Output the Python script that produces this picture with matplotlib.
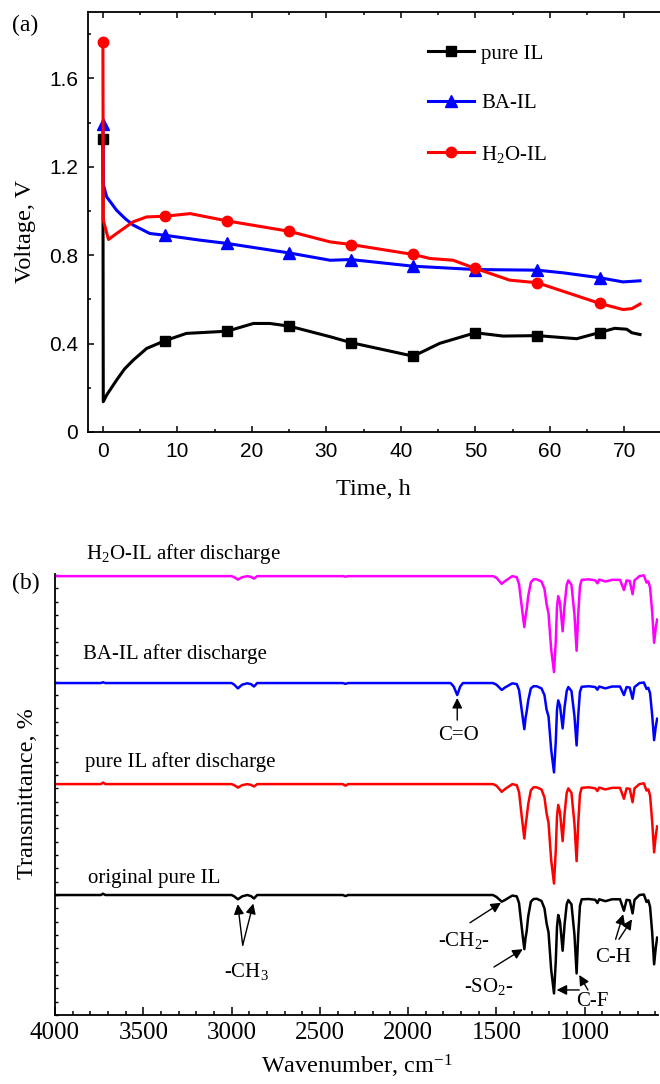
import matplotlib
matplotlib.use('Agg')
import matplotlib.pyplot as plt
from matplotlib.ticker import MultipleLocator
import numpy as np

plt.rcParams['font.family'] = ['Liberation Serif', 'DejaVu Serif']
plt.rcParams['mathtext.fontset'] = 'custom'
plt.rcParams['mathtext.rm'] = 'Liberation Serif'
plt.rcParams['mathtext.it'] = 'Liberation Serif:italic'
plt.rcParams['mathtext.bf'] = 'Liberation Serif:bold'

fs = 15
W, H = 660, 1084

# ---------------- (a) discharge voltage ----------------
mark_t = [0, 8.33, 16.67, 25, 33.33, 41.67, 50, 58.33, 66.67]

t_pure = [0, 0.05, 0.5, 1.84, 2.9, 4.07, 5.87, 8.33, 11.2, 16.67, 20.2, 22.4, 25, 30.5,
          33.33, 41.67, 45.2, 50, 53.7, 58.33, 63.6, 66.67, 68.7, 70.3, 71, 72.1]
v_pure = [1.327, 0.137, 0.167, 0.235, 0.285, 0.325, 0.378, 0.413, 0.446, 0.456, 0.491, 0.491,
          0.479, 0.431, 0.404, 0.343, 0.401, 0.449, 0.434, 0.436, 0.422, 0.450, 0.469, 0.465,
          0.449, 0.441]

t_ba = [0, 0.05, 0.5, 1.84, 3.0, 4.07, 6.3, 8.33, 13.0, 16.67, 25, 30.5, 33.33, 41.67, 50,
        58.33, 61.8, 66.67, 69.8, 72.1]
v_ba = [1.395, 1.12, 1.064, 1.003, 0.965, 0.936, 0.898, 0.890, 0.868, 0.853, 0.810, 0.777,
        0.780, 0.750, 0.735, 0.732, 0.720, 0.698, 0.679, 0.684]

t_h2o = [0, 0.05, 0.75, 1.84, 4.07, 5.87, 8.33, 11.7, 16.67, 25, 30.5, 33.33, 41.67, 43.9,
         47.0, 50, 54.6, 58.33, 66.67, 69.8, 71.0, 72.1]
v_h2o = [1.764, 0.958, 0.871, 0.898, 0.951, 0.973, 0.976, 0.988, 0.955, 0.908, 0.860, 0.848,
         0.803, 0.785, 0.777, 0.740, 0.687, 0.675, 0.582, 0.554, 0.558, 0.579]

v_ticks = [0, 0.4, 0.8, 1.2, 1.6]
v_ticklabels = ['0', '0.4', '0.8', '1.2', '1.6']

# ---------------- (b) FTIR spectra ----------------
wn = [4000, 3740, 3728, 3715, 3000, 2985, 2964, 2940, 2911, 2890, 2873, 2855, 2370, 2355, 2340,
      1760, 1742, 1722, 1705, 1690,
      1520, 1500, 1470, 1450, 1410, 1385, 1372, 1362, 1350, 1342,
      1335, 1329, 1320, 1305, 1290, 1272, 1245, 1228, 1216, 1205,
      1190, 1174, 1164, 1157, 1150, 1140, 1125, 1114, 1102, 1093,
      1075, 1058, 1046, 1037, 1027, 1017, 977, 940, 928, 918,
      883, 845, 800, 778, 763, 745, 729, 718, 690, 665,
      650, 640, 630, 618, 607, 598, 590]

# drop below each baseline, in transmittance units
drop_orig = [0, 0, -0.5, 0, 0, 0.5, 1.6, 0.5, 0, 0.4, 1.3, 0, 0, 0.4, 0,
             0, 0, 0, 0, 0,
             0, 0.7, 2.5, 1.8, 0.2, 0.5, 3, 9, 16, 20.3,
             16, 13.7, 8, 2.5, 1.5, 1.4, 2.2, 5, 10.6, 14,
             28, 36.9, 25, 12, 7.5, 10, 20.9, 11, 3.5, 1.9,
             3.5, 15, 29.4, 15, 4, 1.6, 1.5, 1.8, 3, 1.6,
             2.3, 1.6, 1.6, 5.9, 1.8, 2, 6.9, 1.8, 0, -0.2,
             2.6, 2, 4.4, 14, 26, 20, 16]
drop_pure = [0, 0, -0.6, 0, 0, 0.4, 1.3, 0.4, 0, 0.3, 0.9, 0, 0, 0.6, 0,
             0, 0, 0, 0, 0,
             0, 0.6, 2.9, 1.8, 0, 0.4, 3, 9, 16, 20.4,
             15.5, 12.6, 7.5, 2.3, 1.2, 1.2, 2, 5, 11, 14.5,
             28.5, 37.3, 25, 12, 7.8, 10.5, 21.4, 11, 3.3, 1.6,
             3.3, 15, 28.9, 15, 3.8, 1.4, 1.2, 1.6, 2.6, 1.3,
             2, 1.4, 1.4, 5.5, 1.6, 1.8, 6.8, 1.6, 0, -0.3,
             2.4, 2, 4.2, 14, 25.6, 19.5, 15.9]
drop_ba = [0, 0, -0.3, 0, 0, 0.6, 2, 0.6, 0.1, 0.4, 1.3, 0, 0, 0.3, 0,
           0, 1.3, 4.5, 1.3, 0,
           0, 0.6, 2.6, 1.6, 0.1, 0.4, 2.6, 7.5, 13.5, 17.3,
           13, 10.8, 6.5, 2, 1.2, 1.2, 2, 4.5, 10, 12.5,
           25, 33.5, 22, 10, 6.5, 8.5, 17, 9, 3, 1.5,
           3, 12.5, 23.4, 12.5, 3.3, 1.4, 1.2, 1.5, 2.5, 1.3,
           2, 1.3, 1.3, 4.5, 1.5, 1.7, 5.9, 1.5, 0, -0.2,
           2.2, 1.8, 3.8, 12, 21.4, 16.5, 13.4]
drop_h2o = [0, 0, 0, 0, 0, 0.4, 1.3, 0.4, 0, 0.3, 0.9, 0, 0, 0.2, 0,
            0, 0, 0, 0, 0,
            0, 0.6, 2.9, 1.8, 0, 0.4, 3, 8.5, 15, 19.1,
            15, 12.6, 7.5, 2.3, 1.2, 1.2, 2, 4.8, 10.5, 14,
            27.5, 36, 24.5, 11.5, 7.5, 10, 20.7, 10.8, 3.3, 1.6,
            3.3, 14.5, 28, 14.5, 3.8, 1.4, 1.2, 1.6, 2.7, 1.3,
            2, 1.4, 1.4, 5.2, 1.6, 1.8, 6.8, 1.6, 0, -0.3,
            2.4, 2, 4.2, 13.5, 25, 19.5, 16.3]

baselines = {'orig': 45.0, 'pure': 86.6, 'ba': 124.5, 'h2o': 164.6}

############################################################################################

fig = plt.figure(figsize=(W / 100, H / 100), dpi=100)

ax1 = fig.add_axes([88 / W, 1 - 432 / H, 596 / W, 420 / H])
ax2 = fig.add_axes([55 / W, 1 - 1015 / H, 603 / W, 441 / H])

def marks(t):
    return [i for i, x in enumerate(t) if x in mark_t]

l1, = ax1.plot(t_pure, v_pure, color='k', lw=2.2, marker='s', ms=6.5,
               markevery=marks(t_pure), label='pure IL')
l2, = ax1.plot(t_ba, v_ba, color='#0000ff', lw=2.2, marker='^', ms=8,
               markevery=marks(t_ba), label='BA-IL')
l3, = ax1.plot(t_h2o, v_h2o, color='#ff0000', lw=2.2, marker='o', ms=7.5,
               markevery=marks(t_h2o), label='H$_2$O-IL')

ax1.set_xlim(-2, 78)
ax1.set_ylim(0, 1.9)
ax1.set_xticks(np.arange(0, 71, 10))
ax1.xaxis.set_minor_locator(MultipleLocator(5))
ax1.set_yticks(v_ticks, v_ticklabels)
ax1.yaxis.set_minor_locator(MultipleLocator(0.2))
ax1.tick_params(which='both', direction='in', top=True, right=False, width=1.1)
ax1.tick_params(which='major', length=4.5, pad=7, labelsize=15)
ax1.tick_params(which='minor', length=2.5)
for lbl in ax1.get_xticklabels() + ax1.get_yticklabels():
    lbl.set_fontfamily('Liberation Sans')
for s in ax1.spines.values():
    s.set_linewidth(1.3)
ax1.spines['right'].set_visible(False)

ax1.set_xlabel('Time, h', fontsize=17.5, va='center')
ax1.xaxis.set_label_coords((373 - 88) / 596, (432 - 490) / 420)
ax1.set_ylabel('Voltage, V', fontsize=17.5, va='center')
ax1.yaxis.set_label_coords((25 - 88) / 596, (432 - 231) / 420)

ax1.legend(loc='upper left', bbox_to_anchor=(428 / W, 1 - 44 / H), bbox_transform=fig.transFigure,
           frameon=False, fontsize=fs, labelspacing=1.45, handlelength=2.2,
           handletextpad=0.35, borderpad=0, borderaxespad=0)

fig.text(12 / W, 1 - 25 / H, '(a)', fontsize=17, va='center', ha='left')

# ---------------- (b) ----------------
wn_arr = np.array(wn)
ax2.plot(wn_arr, baselines['h2o'] - np.array(drop_h2o), color='#ff00ff', lw=1.8)
ax2.plot(wn_arr, baselines['ba'] - np.array(drop_ba), color='#0000ff', lw=1.8)
ax2.plot(wn_arr, baselines['pure'] - np.array(drop_pure), color='#ff0000', lw=1.8)
ax2.plot(wn_arr, baselines['orig'] - np.array(drop_orig), color='k', lw=1.8)

ax2.set_xlim(4000, 585)
ax2.set_ylim(0, 165.4)
ax2.set_xticks(np.arange(4000, 999, -500))
ax2.xaxis.set_minor_locator(MultipleLocator(100))
ax2.set_yticks(np.arange(0, 166, 5))
ax2.tick_params(axis='x', which='both', direction='in', labelsize=18, pad=5, width=1.1)
ax2.tick_params(axis='x', which='major', length=6)
ax2.tick_params(axis='x', which='minor', length=3)
ax2.tick_params(axis='y', direction='in', length=1.8, width=1, labelleft=False)
ax2.spines['top'].set_visible(False)
ax2.spines['right'].set_visible(False)
ax2.spines['left'].set_linewidth(1.3)
ax2.spines['bottom'].set_linewidth(1.3)

ax2.set_xlabel('Wavenumber, cm$^{-1}$', fontsize=17.5, va='center')
ax2.xaxis.set_label_coords(0.5, (1015 - 1066) / 441)
ax2.set_ylabel('Transmittance, %', fontsize=17.5, va='center')
ax2.yaxis.set_label_coords((28 - 55) / 603, 0.503)

fig.text(12 / W, 1 - 583 / H, '(b)', fontsize=17, va='center', ha='left')

spec_labels = [('H$_2$O-IL after discharge', 86, 554),
               ('BA-IL after discharge', 83, 654),
               ('pure IL after discharge', 85, 762),
               ('original pure IL', 88, 878)]
for txt, px, py in spec_labels:
    fig.text(px / W, 1 - py / H, txt, fontsize=fs, va='center', ha='left')

arrow = dict(arrowstyle='-|>', color='k', lw=1.0, mutation_scale=15, shrinkA=0, shrinkB=0)

def arr(x0, y0, x1, y1):
    ax2.annotate('', xy=(x1, y1), xytext=(x0, y0), arrowprops=arrow)

# C=O
arr(1722, 110.6, 1722, 118.9)
ax2.text(1716, 104.9, 'C=O', fontsize=fs, ha='center', va='center')
# -CH3
arr(2937, 26.2, 2965, 41.6)
arr(2937, 26.2, 2877, 41.8)
ax2.text(2914, 16.2, '-CH$_3$', fontsize=fs, ha='center', va='center')
# -CH2-
arr(1650, 34.6, 1474, 42.1)
ax2.text(1684, 28.1, '-CH$_2$-', fontsize=fs, ha='center', va='center')
# -SO2-
arr(1514, 18.0, 1351, 24.7)
ax2.text(1542, 10.6, '-SO$_2$-', fontsize=fs, ha='center', va='center')
# C-F
arr(1031, 9.4, 1159, 9.4)
arr(982, 9.4, 1031, 15.0)
ax2.text(959, 5.0, 'C-F', fontsize=fs, ha='center', va='center')
# C-H
arr(825, 28.4, 782, 37.8)
arr(806, 28.4, 732, 35.9)
ax2.text(840, 21.4, 'C-H', fontsize=fs, ha='center', va='center')

plt.savefig('out.png', dpi=100)
